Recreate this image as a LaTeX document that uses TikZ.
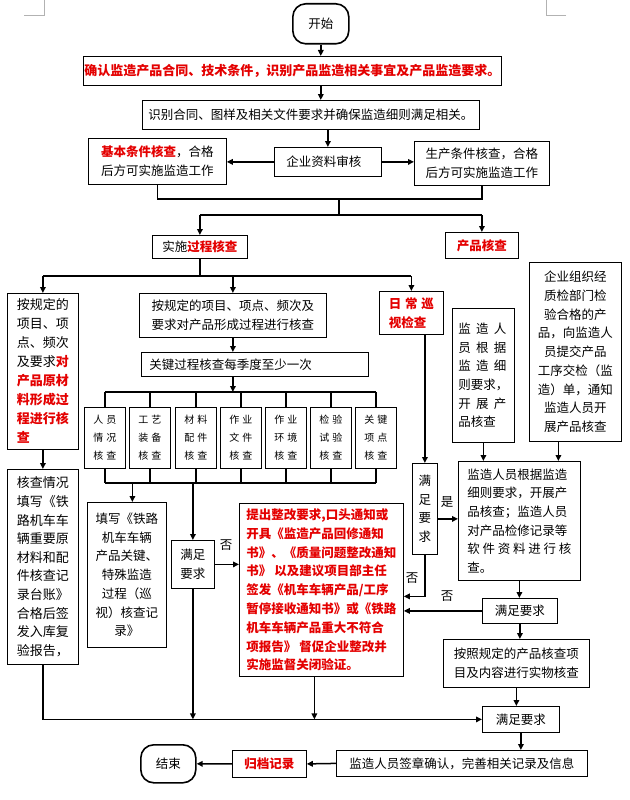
\documentclass[tikz,border=0pt]{standalone}
\usepackage{fontspec}
\setmainfont{Noto Sans CJK SC}
\usetikzlibrary{arrows.meta}
\definecolor{rd}{RGB}{228,0,0}
\newcommand\zzfs{\fontsize{12.5pt}{18.7pt}\selectfont}
\newcommand\zzfb{\fontsize{13pt}{19pt}\selectfont}
\newcommand\zzfm{\fontsize{10pt}{18pt}\selectfont}
\newcommand\zztwo[2]{#1\hspace{3pt}#2}
\newcommand\zzsp[3]{\makebox[48pt]{#1\hfill#2\hfill#3}}
\newcommand\zzr[1]{{\color{rd}\bfseries #1}}
\begin{document}
\begin{tikzpicture}[x=1pt,y=-1pt,
  box/.style={draw, line width=0.8pt, inner sep=0pt, anchor=north west, align=center, font=\zzfs},
  sm/.style={box, minimum width=41pt, minimum height=61pt, font=\zzfm},
  term/.style={box, rounded corners=13pt, line width=1.6pt},
  con/.style={line width=1.5pt},
  arr/.style={con, -{Triangle[length=6pt,width=5.5pt]}},
  lbl/.style={font=\zzfs, inner sep=0pt}]
\fill[white] (0,0) rectangle (629,800);
\useasboundingbox (0,0) rectangle (629,800);
\draw[gray!60, line width=0.5pt] (24,15) -- (44,15) -- (44,0);
\draw[gray!60, line width=0.5pt] (566,15) -- (546,15) -- (546,0);
% nodes
\node[term, minimum width=56pt, minimum height=40pt] (start) at (292,3) {开始};
\node[box, minimum width=418pt, minimum height=29pt, text=rd, font=\fontsize{13pt}{16pt}\selectfont\bfseries] (b1) at (83,56) {确认监造产品合同、技术条件，识别产品监造相关事宜及产品监造要求。};
\node[box, minimum width=337pt, minimum height=29pt] (b2) at (142,100) {识别合同、图样及相关文件要求并确保监造细则满足相关。};
\node[box, minimum width=107pt, minimum height=29pt] (qy) at (274,147) {\makebox[83pt][l]{企业资料审核}};
\node[box, minimum width=138pt, minimum height=46pt, align=left] (lb) at (88,138) {\zzr{基本条件核查}，合格\\后方可实施监造工作};
\node[box, minimum width=135pt, minimum height=44pt, align=left] (rb) at (414,141) {生产条件核查，合格\\后方可实施监造工作};
\node[box, minimum width=95pt, minimum height=23pt] (sh) at (152,235) {实施\zzr{过程核查}};
\node[box, minimum width=73pt, minimum height=26pt, text=rd, font=\zzfs\bfseries] (cp) at (445,232) {产品核查};
\node[box, minimum width=71pt, minimum height=156pt, align=left, font=\zzfb] (L1) at (7,293) {按规定的\\项目、项\\点、频次\\及要求\zzr{对}\\\zzr{产品原材}\\\zzr{料形成过}\\\zzr{程进行核}\\\zzr{查}};
\node[box, minimum width=187pt, minimum height=44pt, align=left] (M1) at (139,293) {按规定的项目、项点、频次及\\要求对产品形成过程进行核查};
\node[box, minimum width=227pt, minimum height=24pt] (M2) at (141,352) {\makebox[211pt][l]{关键过程核查每季度至少一次}};
\node[sm] (s1) at (84,407) {\zztwo{人}{员}\\\zztwo{情}{况}\\\zztwo{核}{查}};
\node[sm] (s2) at (129,407) {\zztwo{工}{艺}\\\zztwo{装}{备}\\\zztwo{核}{查}};
\node[sm] (s3) at (175,407) {\zztwo{材}{料}\\\zztwo{配}{件}\\\zztwo{核}{查}};
\node[sm] (s4) at (220,407) {\zztwo{作}{业}\\\zztwo{文}{件}\\\zztwo{核}{查}};
\node[sm] (s5) at (265,407) {\zztwo{作}{业}\\\zztwo{环}{境}\\\zztwo{核}{查}};
\node[sm] (s6) at (310,407) {\zztwo{检}{验}\\\zztwo{试}{验}\\\zztwo{核}{查}};
\node[sm] (s7) at (355,407) {\zztwo{关}{键}\\\zztwo{项}{点}\\\zztwo{核}{查}};
\node[box, minimum width=64pt, minimum height=43pt, align=left, text=rd, font=\zzfs\bfseries] (rc) at (379,291) {\makebox[45pt]{日\hfill 常\hfill 巡}\\视检查};
\node[box, minimum width=62pt, minimum height=134pt, align=left] (pb) at (452,308) {\zzsp{监}{造}{人}\\\zzsp{员}{根}{据}\\\zzsp{监}{造}{细}\\则要求，\\\zzsp{开}{展}{产}\\品核查};
\node[box, minimum width=92pt, minimum height=179pt] (eb) at (529,262) {企业组织经\\质检部门检\\验合格的产\\品，向监造人\\员提交产品\\工序交检（监\\造）单，通知\\监造人员开\\展产品核查};
\node[box, minimum width=71pt, minimum height=195pt, align=left, font=\fontsize{13pt}{18.6pt}\selectfont] (L2) at (7,469) {核查情况\\填写《铁\\路机车车\\辆重要原\\材料和配\\件核查记\\录台账》\\合格后签\\发入库复\\验报告，};
\node[box, minimum width=79pt, minimum height=145pt] (M3) at (87,502) {填写《铁路\\机车车辆\\产品关键、\\特殊监造\\过程（巡\\视）核查记\\录》};
\node[box, minimum width=43pt, minimum height=48pt] (ok1) at (171,540) {满足\\要求};
\node[box, minimum width=164pt, minimum height=173pt, align=left, text=rd, font=\fontsize{12.5pt}{18.8pt}\selectfont\bfseries] (red) at (239,503) {提出整改要求,口头通知或\\开具《监造产品回修通知\\书》、《质量问题整改通知\\书》 以及建议项目部主任\\签发《机车车辆产品/工序\\暂停接收通知书》或《铁路\\机车车辆产品重大不符合\\项报告》 督促企业整改并\\实施监督关闭验证。};
\node[box, minimum width=25pt, minimum height=91pt] (ok2) at (412,463) {满\\足\\要\\求};
\node[box, minimum width=122pt, minimum height=119pt, align=left] (rbig) at (458,461) {监造人员根据监造\\细则要求，开展产\\品核查；监造人员\\对产品检修记录等\\\makebox[104pt]{软\hfill 件\hfill 资\hfill 料\hfill 进\hfill 行\hfill 核}\\查。};
\node[box, minimum width=75pt, minimum height=25pt] (ok3) at (482,598) {满足要求};
\node[box, minimum width=146pt, minimum height=48pt, align=left] (phys) at (443,639) {按照规定的产品核查项\\目及内容进行实物核查};
\node[box, minimum width=77pt, minimum height=26pt] (ok4) at (482,706) {满足要求};
\node[box, minimum width=251pt, minimum height=26pt] (sign) at (336,750) {监造人员签章确认，完善相关记录及信息};
\node[box, minimum width=74pt, minimum height=27pt, text=rd, font=\zzfs\bfseries] (arch) at (232,750) {归档记录};
\node[term, minimum width=55pt, minimum height=38pt] (end) at (140,744) {结束};
% labels
\node[lbl] (n1) at (226,545) {否};
\node[lbl] (y1) at (447,502) {是};
\node[lbl] (n2) at (412,578) {否};
\node[lbl] (n3) at (447,596) {否};
% junction coordinates
\coordinate (j1) at (339,199);
\coordinate (j2) at (339,215);
\coordinate (j3) at (0,276);
\coordinate (j4) at (0,392);
\coordinate (j5) at (0,483);
% connectors
\draw[arr] (start.south) -- (start.south |- b1.north);
\draw[arr] (start.south |- b1.south) -- (start.south |- b2.north);
\draw[arr] (qy.north |- b2.south) -- (qy.north);
\draw[arr] (qy.west) -- (qy.west -| lb.east);
\draw[arr] (qy.east) -- (qy.east -| rb.west);
\draw[con] (lb.south) |- (rb.south |- j1) -- (rb.south);
\draw[con] (j1) -- (j2);
\draw[con] (sh.north |- j2) -- (cp.north |- j2);
\draw[arr] (sh.north |- j2) -- (sh.north);
\draw[arr] (cp.north |- j2) -- (cp.north);
\draw[con] (sh.south) -- (sh.south |- j3);
\draw[con] (L1.north |- j3) -- (rc.north |- j3);
\draw[arr] (L1.north |- j3) -- (L1.north);
\draw[arr] (M1.north |- j3) -- (M1.north);
\draw[arr] (rc.north |- j3) -- (rc.north);
\draw[arr] (M1.south) -- (M1.south |- M2.north);
\draw[arr] (M1.south |- M2.south) -- (M1.south |- j4);
\draw[con] (s1.north |- j4) -- (s7.north |- j4);
\foreach \s in {s1,s2,s3,s4,s5,s6,s7} {
  \draw[con] (\s.north |- j4) -- (\s.north);
  \draw[con] (\s.south) -- (\s.south |- j5);
}
\draw[con] (s1.south |- j5) -- (s7.south |- j5);
\draw[arr] ([xshift=5.5pt]M3.north |- j5) -- ([xshift=5.5pt]M3.north);
\draw[arr] (ok1.north |- j5) -- (ok1.north);
\draw[arr] (L1.south) -- (L1.south |- L2.north);
\draw[arr] (L2.south) |- (ok4.west);
\draw[arr] (ok1.south) -- (ok1.south |- ok4.west);
\draw[arr] ([xshift=-7pt]red.south) -- ([xshift=-7pt]red.south |- ok4.west);
\draw[arr] (ok1.east) -- (ok1.east -| red.west);
\draw[arr] (ok2.north |- rc.south) -- (ok2.north);
\draw[arr] ([yshift=-10pt]ok2.east) -- ([yshift=-10pt]ok2.east -| rbig.west);
\draw[arr] (ok2.south) |- ([yshift=-6.5pt]red.east);
\draw[arr] (pb.south) -- (pb.south |- rbig.north);
\draw[arr] ([xshift=-17pt]eb.south) -- ([xshift=-17pt]eb.south |- rbig.north);
\draw[arr] (rbig.south) -- (rbig.south |- ok3.north);
\draw[arr] (ok3.west) -- (ok3.west -| red.east);
\draw[arr] (ok3.south) -- (ok3.south |- phys.north);
\draw[arr] (phys.south) -- (phys.south |- ok4.north);
\draw[arr] (ok4.south) -- (ok4.south |- sign.north);
\draw[arr] (sign.west) -- (arch.east);
\draw[arr] (arch.west) -- (end.east);
\end{tikzpicture}
\end{document}
